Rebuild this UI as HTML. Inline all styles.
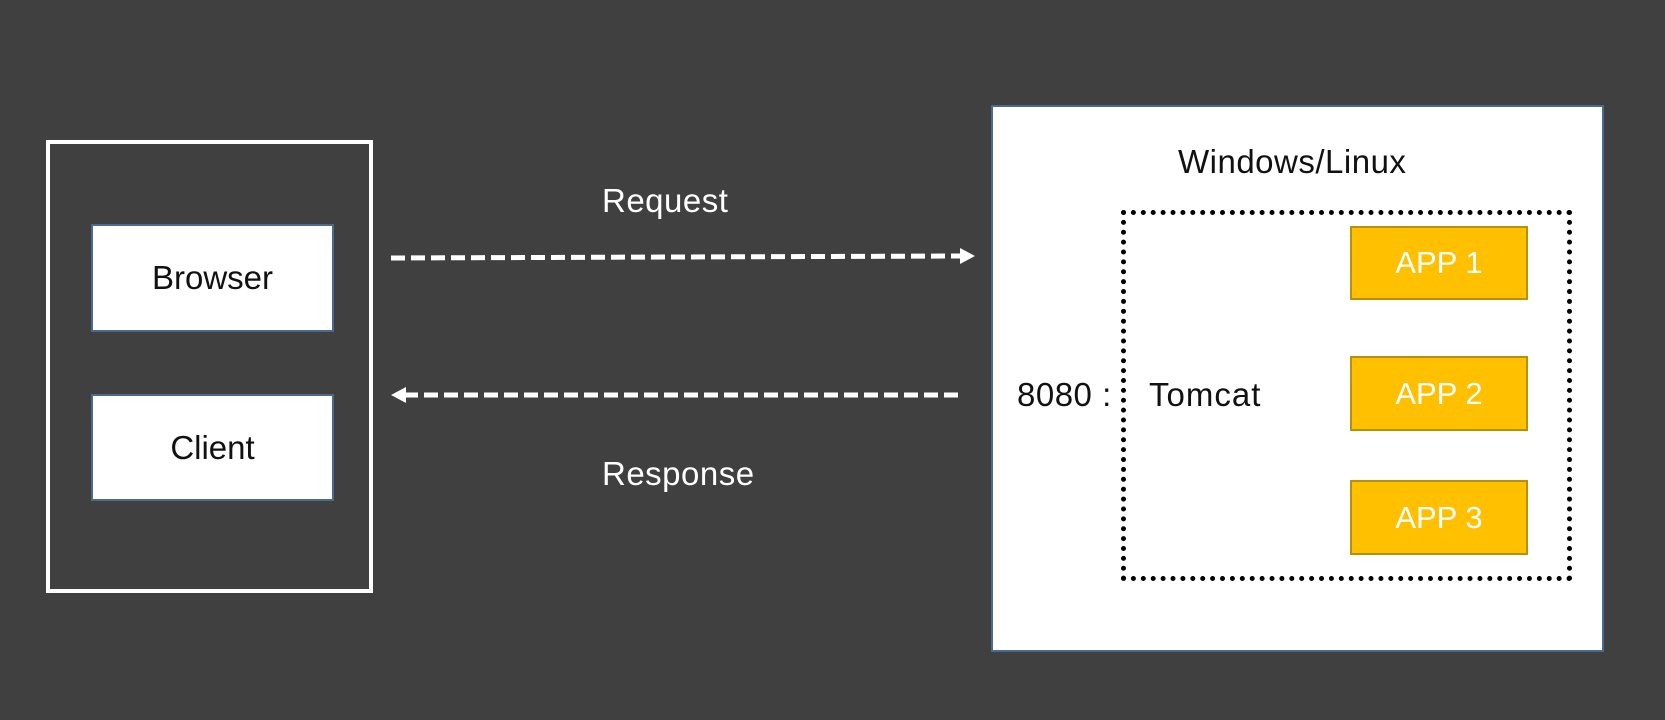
<!DOCTYPE html>
<html><head><meta charset="utf-8"><style>
body{margin:0;width:1665px;height:720px;background:#404040;position:relative;overflow:hidden;font-family:"Liberation Sans","Noto Sans CJK SC",sans-serif;}
.a{position:absolute;box-sizing:border-box;}
.t{position:absolute;font-size:33px;line-height:36px;white-space:nowrap;letter-spacing:0.5px;}
.box{background:#fff;border:2px solid #4a6a8f;display:flex;align-items:center;justify-content:center;font-size:33px;color:#111;}
.app{background:#ffc000;border:2px solid #b8900a;display:flex;align-items:center;justify-content:center;font-size:31px;color:#fff;}
</style></head><body>
<div class="a" style="left:46px;top:140px;width:327px;height:453px;border:4px solid #fff;"></div>
<div class="a box" style="left:91px;top:224px;width:243px;height:108px;">Browser</div>
<div class="a box" style="left:91px;top:394px;width:243px;height:107px;">Client</div>
<div class="t" style="left:602px;top:183px;color:#fff;">Request</div>
<div class="t" style="left:602px;top:456px;color:#fff;">Response</div>
<svg class="a" style="left:0;top:0" width="1665" height="720">
<line x1="391" y1="258" x2="962" y2="256" stroke="#fff" stroke-width="5" stroke-dasharray="14,6"/>
<polygon points="960,248 975,256 960,264" fill="#fff"/>
<line x1="404" y1="395" x2="958" y2="395" stroke="#fff" stroke-width="5" stroke-dasharray="14,6"/>
<polygon points="406,387 391,395 406,403" fill="#fff"/>
</svg>
<div class="a" style="left:991px;top:105px;width:613px;height:547px;background:#fff;border:2px solid #4a6a8f;"></div>
<div class="t" style="left:1178px;top:144px;color:#111;">Windows/Linux</div>
<div class="a" style="left:1121px;top:210px;width:451px;height:371px;border:5px dotted #000;"></div>
<div class="t" style="left:1017px;top:377px;color:#111;">8080 :</div>
<div class="t" style="left:1149px;top:377px;color:#111;letter-spacing:1px;">Tomcat</div>
<div class="a app" style="left:1350px;top:226px;width:178px;height:74px;">APP 1</div>
<div class="a app" style="left:1350px;top:356px;width:178px;height:75px;">APP 2</div>
<div class="a app" style="left:1350px;top:480px;width:178px;height:75px;">APP 3</div>
</body></html>
